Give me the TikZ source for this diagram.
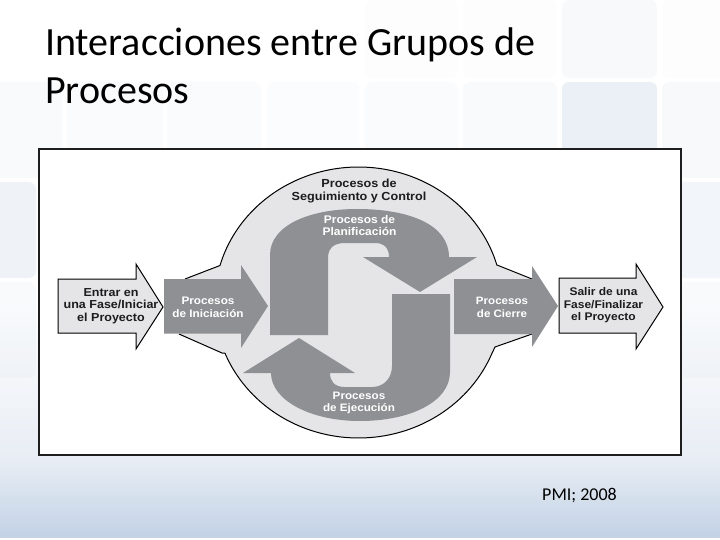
\documentclass[tikz,border=0pt]{standalone}
\usepackage{fontspec}
\setmainfont{Carlito}
\newfontfamily\diagfont{Liberation Sans}[FakeStretch=1.08]
\definecolor{procgrey}{HTML}{8F9093}
\definecolor{lightgrey}{HTML}{E5E5E7}
\definecolor{inktext}{HTML}{1C1C1C}
\definecolor{frameink}{HTML}{1E1E1E}
\definecolor{tileblue}{HTML}{B9CAE0}
\definecolor{bandlow}{HTML}{C2D2E5}
\definecolor{bandmid}{HTML}{E8EDF4}
\tikzset{
  tile/.style={fill=tileblue,rounded corners=7pt,draw=none},
  greyshape/.style={fill=procgrey,draw=none},
  whitearrow/.style={fill=lightgrey,draw=black,line width=1pt,line join=miter},
  darklabel/.style={font=\diagfont\bfseries\fontsize{#1}{12.5}\selectfont,text=inktext,align=center,inner sep=0pt},
  lightlabel/.style={font=\diagfont\bfseries\fontsize{#1}{12.5}\selectfont,text=white,align=center,inner sep=0pt},
  titletext/.style={font=\fontsize{40}{47.5}\selectfont,text=black,align=left,anchor=north west,inner sep=0pt},
}
\begin{document}
\begin{tikzpicture}[x=1pt,y=-1pt]
\useasboundingbox (0,0) rectangle (720,540);
% background
\fill[white] (0,0) rectangle (720,540);
\shade[top color=white,bottom color=bandmid,draw=none] (0,300) rectangle (720,460);
\shade[top color=bandmid,bottom color=bandlow,draw=none] (0,460) rectangle (720,537.5);
\fill[tile,opacity=.08] (-10,82) rectangle (62,178);
\fill[tile,opacity=.06] (67,82) rectangle (163,178);
\fill[tile,opacity=.06] (167,82) rectangle (261,178);
\fill[tile,opacity=.05] (267,82) rectangle (359,178);
\fill[tile,opacity=.06] (365,82) rectangle (458,178);
\fill[tile,opacity=.08] (463,82) rectangle (557,178);
\fill[tile,opacity=.28] (562,82) rectangle (657,178);
\fill[tile,opacity=.10] (662,82) rectangle (730,178);
\fill[tile,opacity=.02] (365,0) rectangle (458,78);
\fill[tile,opacity=.02] (463,0) rectangle (557,78);
\fill[tile,opacity=.10] (562,0) rectangle (657,78);
\fill[tile,opacity=.02] (662,0) rectangle (730,78);
\fill[tile,opacity=.22] (-10,182) rectangle (36,278);
\fill[tile,opacity=.18] (662,182) rectangle (730,278);
\fill[tile,opacity=.08] (-10,282) rectangle (36,378);
\fill[tile,opacity=.08] (662,282) rectangle (730,378);
% frame
\draw[draw=frameink,line width=2.4pt,fill=white] (39.2,149.3) rectangle (681,455.2);
% monitoring ellipse
\fill[lightgrey] (179,334) -- (185,279) -- (220,265.5)
  -- plot[smooth,domain=164:16,samples=40] ({358.5+144*cos(\x)},{302.5-135.5*sin(\x)})
  -- (497,265) -- (532,279) -- (532,334) -- (495,347)
  -- plot[smooth,domain=-22:-158,samples=40] ({358.5+144*cos(\x)},{302.5-135.5*sin(\x)})
  -- (222,353) -- cycle;
\draw[black,line width=1pt,line join=round] (185,279) -- (220,265.5)
  -- plot[smooth,domain=164:16,samples=40] ({358.5+144*cos(\x)},{302.5-135.5*sin(\x)})
  -- (497,265) -- (532,279);
\draw[black,line width=1pt,line join=round] (532,334) -- (495,347)
  -- plot[smooth,domain=-22:-158,samples=40] ({358.5+144*cos(\x)},{302.5-135.5*sin(\x)})
  -- (222,353) -- (179,334);
% planning
\fill[greyshape] (270,335) -- (270,255) .. controls (270,225) and (310,209) .. (357,209)
  .. controls (410,209) and (449,225) .. (449,257) -- (477,257) -- (420,292) -- (363,257) -- (389,257)
  .. controls (389,248) and (384,243) .. (375,243) -- (345,243)
  .. controls (334,243) and (328,248) .. (328,258) -- (328,335) -- cycle;
% execution
\fill[greyshape] (392,294) -- (450,294) -- (450,372) .. controls (450,402) and (410,421) .. (360,421)
  .. controls (310,421) and (271,400) .. (271,373) -- (243,373) -- (299,338) -- (355,373) -- (330,373)
  .. controls (330,381) and (334,387) .. (345,387) -- (372,387)
  .. controls (384,387) and (392,378) .. (392,366) -- cycle;
% phase arrows
\filldraw[whitearrow] (58,279) -- (136,279) -- (136,264) -- (163,307) -- (136,349) -- (136,333) -- (58,333) -- cycle;
\fill[greyshape] (164,279) -- (241,279) -- (241,265) -- (268,306) -- (241,348) -- (241,333.5) -- (164,333.5) -- cycle;
\fill[greyshape] (454,279) -- (532,279) -- (532,266) -- (558,306) -- (532,347) -- (532,334) -- (454,334) -- cycle;
\filldraw[whitearrow] (559,278) -- (636,278) -- (636,264) -- (663,307) -- (636,349) -- (636,333) -- (559,333) -- cycle;
% labels
\node[darklabel=11.7] (seg) at (359,191) {Procesos de\\Seguimiento y Control};
\node[lightlabel=11.1] (plan) at (359.5,225.5) {Procesos de\\Planificación};
\node[lightlabel=10.8] (ejec) at (359,403) {Procesos\\de Ejecución};
\node[darklabel=11.6] (entrar) at (111,306) {Entrar en\\una Fase/Iniciar\\el Proyecto};
\node[lightlabel=10.9] (inic) at (208,307.5) {Procesos\\de Iniciación};
\node[lightlabel=10.7] (cierre) at (502,307.5) {Procesos\\de Cierre};
\node[darklabel=11.1] (salir) at (603.5,305.5) {Salir de una\\Fase/Finalizar\\el Proyecto};
% title and source
\node[titletext] (title) at (45,28) {Interacciones entre Grupos de\\Procesos};
\node[font=\fontsize{18}{22}\selectfont,text=black,inner sep=0pt] (src) at (579.5,495) {PMI; 2008};
\end{tikzpicture}
\end{document}
